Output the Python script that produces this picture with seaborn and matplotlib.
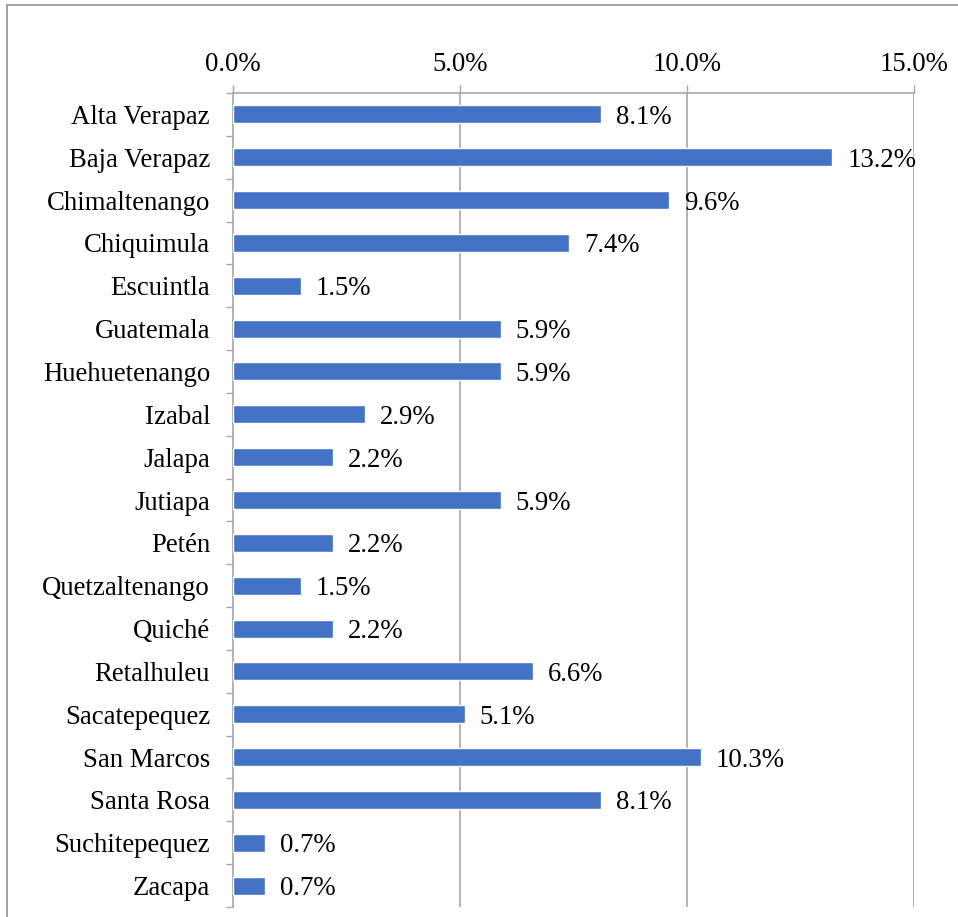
import matplotlib
matplotlib.use("Agg")
import matplotlib.pyplot as plt
import matplotlib.patches as mpatches
import seaborn as sns
import pandas as pd

departamentos = [
    "Alta Verapaz", "Baja Verapaz", "Chimaltenango", "Chiquimula", "Escuintla",
    "Guatemala", "Huehuetenango", "Izabal", "Jalapa", "Jutiapa", "Petén",
    "Quetzaltenango", "Quiché", "Retalhuleu", "Sacatepequez", "San Marcos",
    "Santa Rosa", "Suchitepequez", "Zacapa",
]
porcentajes = [8.1, 13.2, 9.6, 7.4, 1.5, 5.9, 5.9, 2.9, 2.2, 5.9, 2.2,
               1.5, 2.2, 6.6, 5.1, 10.3, 8.1, 0.7, 0.7]
x_ticks = [0.0, 5.0, 10.0, 15.0]

df = pd.DataFrame({"departamento": departamentos, "porcentaje": porcentajes})

sns.set_theme(style="white")
plt.rcParams["font.family"] = ["Liberation Serif", "DejaVu Serif"]

GRAY = "#A6A6A6"
BLUE = "#4472C4"
FS = 19.3

fig = plt.figure(figsize=(9.58, 9.17), dpi=100)
fig.patch.set_facecolor("white")

# outer chart-area frame
frame = mpatches.Rectangle((7 / 958, -0.05), 1.2, 1 - 5 / 917 + 0.05,
                           transform=fig.transFigure, fill=False,
                           edgecolor="#999999", linewidth=1.3, zorder=0)
fig.patches.append(frame)

ax = fig.add_axes([233 / 958, 1 - 907 / 917, (914 - 233) / 958, (907 - 93) / 917])
ax.set_facecolor("none")

sns.barplot(data=df, x="porcentaje", y="departamento", orient="h",
            color=BLUE, saturation=1, width=0.42, ax=ax, zorder=3)

ax.set_xlim(0, 15)
ax.set_ylim(len(departamentos) - 0.5, -0.5)

# x axis on top with percentage labels
ax.xaxis.tick_top()
ax.set_xticks(x_ticks)
ax.set_xticklabels([f"{t:.1f}%" for t in x_ticks], fontsize=FS, color="black")
ax.tick_params(axis="x", which="major", direction="out", length=6, width=1,
               color=GRAY, pad=5.5, top=True, bottom=False)

# y axis: category ticks between bars
ax.set_yticks(range(len(departamentos)))
ax.set_yticklabels(departamentos, fontsize=FS, color="black")
ax.set_yticks([i - 0.5 for i in range(len(departamentos) + 1)], minor=True)
ax.tick_params(axis="y", which="major", length=0, pad=16.5)
ax.tick_params(axis="y", which="minor", direction="out", length=5, width=1,
               color=GRAY, left=True)

ax.set_xlabel("")
ax.set_ylabel("")

for t in x_ticks[1:]:
    ax.axvline(t, color=GRAY, linewidth=1.2, zorder=1)

for name, sp in ax.spines.items():
    if name in ("top", "left"):
        sp.set_visible(True)
        sp.set_color(GRAY)
        sp.set_linewidth(1.2)
    else:
        sp.set_visible(False)

# value labels at bar ends
for i, v in enumerate(porcentajes):
    ax.text(v + 0.33, i, f"{v:.1f}%", va="center_baseline", ha="left",
            fontsize=FS, color="black", zorder=4)

fig.savefig("out.png", dpi=100, facecolor="white")
